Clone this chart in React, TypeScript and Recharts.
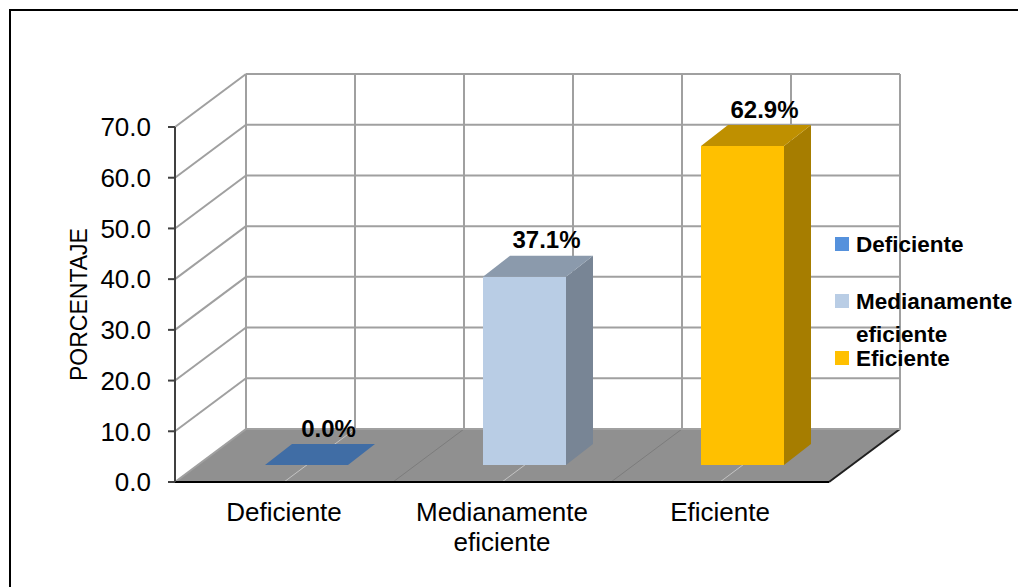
import {
  Bar,
  BarChart,
  Cell,
  LabelList,
  Legend,
  ReferenceArea,
  ReferenceLine,
  XAxis,
  YAxis,
} from 'recharts'

const categories = ['Deficiente', 'Medianamente eficiente', 'Eficiente']
const percentages = [0.0, 37.1, 62.9]
const barColors = ['#5591DC', '#B9CDE5', '#FFC000']
const yTicks = [0, 10, 20, 30, 40, 50, 60, 70]

const data = categories.map((name, i) => ({ name, value: percentages[i] }))

const FONT = "'Liberation Sans', Arial, sans-serif"
const GRID = '#a0a0a0'

// oblique projection: back wall offset, bar placement inside the box, bar depth
const WALL_DX = 71
const WALL_DY = -53
const BAR_DX = 22
const BAR_DY = -17
const DEPTH_DX = 27
const DEPTH_DY = -21

function shade(hex: string, f: number) {
  const n = parseInt(hex.slice(1), 16)
  const r = Math.round(((n >> 16) & 255) * f)
  const g = Math.round(((n >> 8) & 255) * f)
  const b = Math.round((n & 255) * f)
  return `rgb(${r},${g},${b})`
}

function Box3D(props: any) {
  const { x, y, width, height, fill } = props
  const fx = x + BAR_DX
  const fy = y + BAR_DY
  const top = [
    [fx, fy],
    [fx + DEPTH_DX, fy + DEPTH_DY],
    [fx + width + DEPTH_DX, fy + DEPTH_DY],
    [fx + width, fy],
  ]
  const side = [
    [fx + width, fy],
    [fx + width + DEPTH_DX, fy + DEPTH_DY],
    [fx + width + DEPTH_DX, fy + height + DEPTH_DY],
    [fx + width, fy + height],
  ]
  return (
    <g>
      {height > 0 && <rect x={fx} y={fy} width={width} height={height} fill={fill} />}
      {height > 0 && <polygon points={side.join(' ')} fill={shade(fill, 0.65)} />}
      <polygon points={top.join(' ')} fill={shade(fill, 0.75)} />
    </g>
  )
}

function ValueLabel(props: any) {
  const { x, y, width, value } = props
  const cx = x + BAR_DX + DEPTH_DX + width / 2 - 5
  const cy = y + BAR_DY + DEPTH_DY - 16
  return (
    <text
      x={cx}
      y={cy}
      dy='0.36em'
      textAnchor='middle'
      fontFamily={FONT}
      fontWeight='bold'
      fontSize={24}
      fill='#000'
    >
      {`${Number(value).toFixed(1)}%`}
    </text>
  )
}

// floor, back wall verticals and the lines running across the floor
function Floor(props: any) {
  const { x, y, width, height } = props
  const bottom = y + height
  const step = width / (categories.length * 2)
  const floor = [
    [x, bottom],
    [x + width, bottom],
    [x + width + WALL_DX, bottom + WALL_DY],
    [x + WALL_DX, bottom + WALL_DY],
  ]
  const ks = Array.from({ length: categories.length * 2 + 1 }, (_, k) => k)
  return (
    <g>
      {ks.map((k) => (
        <line
          key={`v${k}`}
          x1={x + WALL_DX + k * step}
          y1={y + WALL_DY}
          x2={x + WALL_DX + k * step}
          y2={bottom + WALL_DY}
          stroke={GRID}
          strokeWidth={2}
        />
      ))}
      <polygon points={floor.join(' ')} fill='#909090' />
      {ks.slice(1, -1).map((k) => (
        <line
          key={`f${k}`}
          x1={x + k * step}
          y1={bottom}
          x2={x + k * step + WALL_DX}
          y2={bottom + WALL_DY}
          stroke={k % 2 ? '#c4c4c4' : '#7c7c7c'}
          strokeWidth={1}
        />
      ))}
      <line
        x1={x + width}
        y1={bottom}
        x2={x + width + WALL_DX}
        y2={bottom + WALL_DY}
        stroke='#202020'
        strokeWidth={2}
      />
    </g>
  )
}

// one value level: side wall diagonal plus the back wall line
function WallLine(props: any) {
  const { x1, y1, x2 } = props
  return (
    <g>
      <line x1={x1} y1={y1} x2={x1 + WALL_DX} y2={y1 + WALL_DY} stroke={GRID} strokeWidth={2} />
      <line
        x1={x1 + WALL_DX}
        y1={y1 + WALL_DY}
        x2={x2 + WALL_DX}
        y2={y1 + WALL_DY}
        stroke={GRID}
        strokeWidth={2}
      />
    </g>
  )
}

// category names are broken word by word onto separate lines
function CategoryTick(props: any) {
  const { x, y, payload } = props
  const words = String(payload.value).split(' ')
  return (
    <text x={x} y={y} textAnchor='middle' fontSize={26} fontFamily={FONT} fill='#000'>
      {words.map((w, i) => (
        <tspan key={i} x={x} dy={i === 0 ? '0.71em' : 30}>
          {w}
        </tspan>
      ))}
    </text>
  )
}

function AxisTitle(props: any) {
  const { viewBox } = props
  const cx = viewBox.x - 1
  const cy = viewBox.y + viewBox.height / 2
  return (
    <text
      x={cx}
      y={cy}
      transform={`rotate(-90 ${cx} ${cy})`}
      textAnchor='middle'
      dominantBaseline='central'
      fontFamily={FONT}
      fontSize={23}
      fill='#000'
    >
      PORCENTAJE
    </text>
  )
}

function LegendBox() {
  return (
    <div style={{ fontFamily: FONT, fontWeight: 'bold', fontSize: 22.5, color: '#000' }}>
      {categories.map((c, i) => (
        <div key={c} style={{ display: 'flex', height: 57, lineHeight: '33px' }}>
          <span
            style={{
              width: 14,
              height: 14,
              marginTop: 9,
              marginRight: 7,
              flex: 'none',
              background: barColors[i],
            }}
          />
          <span style={{ width: 162 }}>{c}</span>
        </div>
      ))}
    </div>
  )
}

export default function App() {
  return (
    <div
      style={{
        position: 'absolute',
        left: 0,
        top: 0,
        width: 1018,
        height: 587,
        overflow: 'hidden',
        background: '#fff',
        fontFamily: FONT,
      }}
    >
      <div
        style={{
          position: 'absolute',
          left: 9,
          top: 9,
          width: 1100,
          height: 700,
          borderTop: '2px solid #000',
          borderLeft: '2px solid #000',
        }}
      />
      <BarChart
        width={1018}
        height={587}
        data={data}
        margin={{ top: 127, right: 189, bottom: 45, left: 80 }}
        barSize={83}
      >
        <ReferenceArea y1={0} y2={70} shape={Floor} zIndex={-20} />
        {yTicks.map((v) => (
          <ReferenceLine key={v} y={v} shape={WallLine} zIndex={-10} />
        ))}
        <XAxis
          dataKey='name'
          height={60}
          tickLine={false}
          tickMargin={15}
          axisLine={{ stroke: '#000', strokeWidth: 2 }}
          tick={CategoryTick}
          interval={0}
        />
        <YAxis
          width={95}
          domain={[0, 70]}
          ticks={yTicks}
          interval={0}
          tickSize={7}
          tickMargin={17}
          tickFormatter={(v) => Number(v).toFixed(1)}
          tick={{ fontSize: 26, fill: '#000', fontFamily: FONT }}
          axisLine={{ stroke: '#404040', strokeWidth: 2 }}
          tickLine={{ stroke: '#404040', strokeWidth: 2 }}
          label={{ content: AxisTitle }}
        />
        <Legend
          layout='vertical'
          align='center'
          verticalAlign='middle'
          content={LegendBox}
          wrapperStyle={{ left: 835, top: 228, width: 183 }}
        />
        <Bar dataKey='value' shape={Box3D} isAnimationActive={false}>
          {data.map((d, i) => (
            <Cell key={d.name} fill={barColors[i]} />
          ))}
          <LabelList dataKey='value' content={ValueLabel} />
        </Bar>
      </BarChart>
    </div>
  )
}
